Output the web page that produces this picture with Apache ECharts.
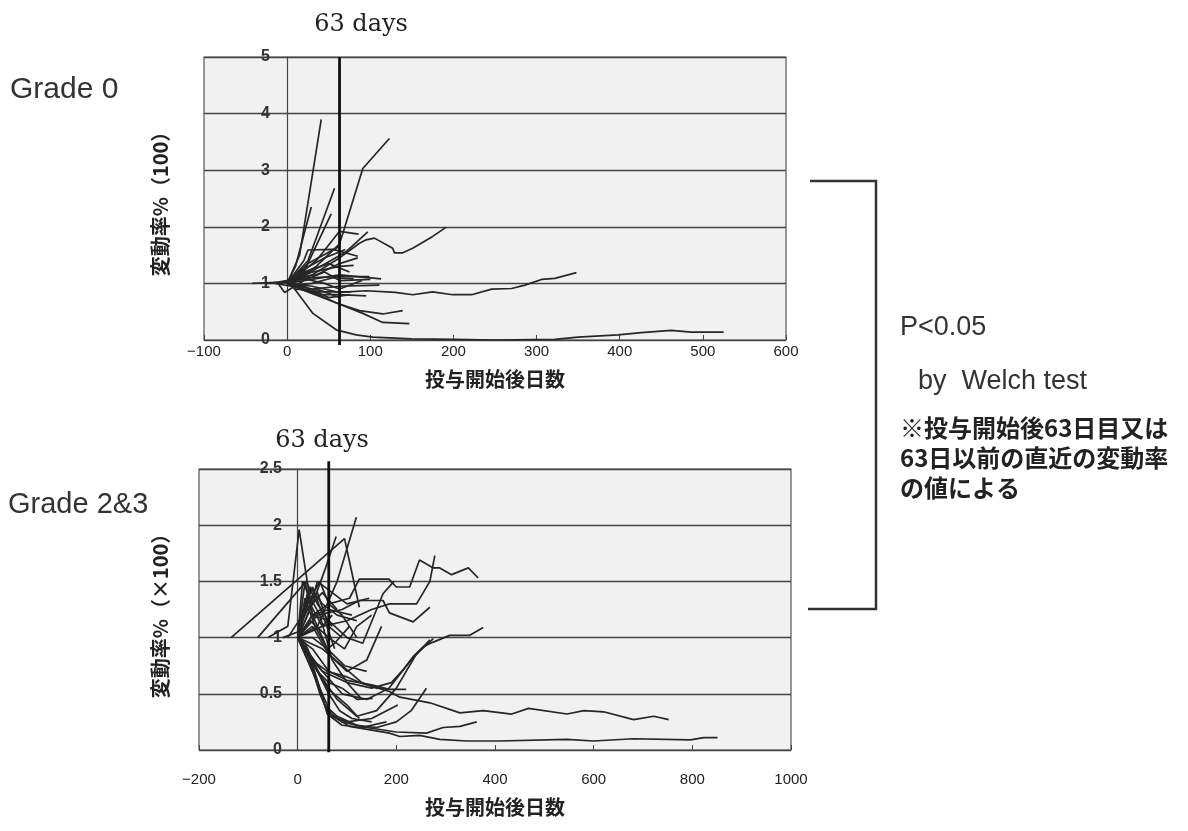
<!DOCTYPE html>
<html><head><meta charset="utf-8">
<script src="https://cdn.jsdelivr.net/npm/echarts@6/dist/echarts.min.js"></script>
<style>html,body{margin:0;padding:0;background:#fff}#c{width:1188px;height:831px}</style>
</head><body><div id="c"></div>
<script>
// ---- axes / labels ----
const cutoffDay = 63;
const topXTicks = {min: -100, max: 600, interval: 100};
const topYTicks = {min: 0, max: 5, interval: 1};
const botXTicks = {min: -200, max: 1000, interval: 200};
const botYTicks = {min: 0, max: 2.5, interval: 0.5};
const xAxisName = '投与開始後日数';
const topYName = '変動率%（100）';
const botYName = '変動率%（×100）';
const topTitle = 'Grade 0';
const botTitle = 'Grade 2&3';
const cutoffLabel = '63 days';
const pText = 'P<0.05';
const testText = 'by  Welch test';
const noteLines = ['※投与開始後63日目又は', '63日以前の直近の変動率', 'の値による'];

// ---- Grade 0 : each patient's [day, ratio] ----
const grade0Lines = [
  [[0,1],[15,1.5],[41,3.9]],
  [[0,1],[25,1.4],[57,2.68]],
  [[0,1],[20,1.2],[53,2.23]],
  [[0,1],[10,1.3],[29,2.35]],
  [[0,1],[35,1.3],[63,1.7],[69,1.98],[91,3.03],[123,3.56]],
  [[0,1],[30,1.15],[63,1.45],[87,1.71],[95,1.77],[105,1.80],[127,1.62],[129,1.54],[139,1.54],[151,1.62],[175,1.83],[191,1.99]],
  [[0,1],[30,0.95],[63,0.84],[95,0.87],[130,0.84],[151,0.80],[175,0.85],[199,0.80],[222,0.80],[246,0.90],[270,0.91],[286,0.97],[306,1.07],[322,1.09],[348,1.19]],
  [[0,1],[7,0.94],[31,0.47],[59,0.18],[83,0.09],[103,0.05],[150,0.02],[200,0.01],[250,0.0],[322,0.01],[350,0.05],[398,0.09],[426,0.13],[462,0.17],[486,0.14],[525,0.14]],
  [[0,1],[30,0.85],[60,0.65],[87,0.52],[115,0.46],[139,0.52]],
  [[0,1],[25,0.85],[55,0.68],[91,0.47],[115,0.31],[147,0.29]],
  [[0,1],[35,1.4],[63,1.92],[86,1.87]],
  [[0,1],[20,1.4],[25,1.59],[55,1.6],[85,1.48]],
  [[0,1],[40,1.3],[70,1.55],[97,1.91]],
  [[-42,1],[-12,1.02],[-3,0.84],[20,1.05],[63,1.15],[113,1.08]],
  [[0,1],[30,0.9],[63,0.95],[111,0.97]],
  [[0,1],[25,1.1],[60,1.12],[99,1.12]],
  [[0,1],[30,0.85],[77,0.85]],
  [[0,1],[20,0.95],[50,0.75],[75,0.8]],
  [[0,1],[30,1.2],[63,1.3],[80,1.32]],
  [[0,1],[15,1.1],[45,1.0],[63,0.9],[90,1.05]],
  [[0,1],[20,1.2],[50,1.35],[75,1.2]],
  [[0,1],[10,0.9],[40,0.88],[63,0.75]],
  [[0,1],[20,1.05],[45,1.2],[63,1.05],[100,1.07]],
  [[-20,1],[0,1.05],[20,1.25],[45,1.45],[70,1.6]],
  [[-15,1],[5,0.95],[30,1.0],[55,1.1],[80,1.08]],
  [[-10,1],[10,1.1],[35,1.15],[63,1.35],[85,1.45]],
  [[0,1],[15,0.9],[40,0.8],[63,0.8],[95,0.78]],
  [[-25,1],[0,1.02],[25,1.35],[50,1.55],[63,1.65]]
];

// ---- Grade 2&3 : each patient's [day, ratio] ----
const grade23Lines = [
  [[-135,1.0],[95,1.88],[125,1.27]],
  [[-60,1.0],[-20,1.1],[3,1.96],[30,1.2],[60,0.9]],
  [[-81,1.0],[17,1.5],[40,1.3],[70,1.1]],
  [[0,1],[40,1.1],[80,1.5],[119,2.07]],
  [[0,1],[30,1.3],[55,1.6],[78,1.9]],
  [[0,1],[30,1.2],[63,1.3],[105,1.35],[125,1.52],[185,1.52],[200,1.45],[227,1.45],[247,1.69],[275,1.62],[288,1.62],[312,1.56],[346,1.62],[366,1.53]],
  [[0,1],[50,1.1],[100,1.15],[150,1.25],[186,1.3],[241,1.3],[268,1.5],[278,1.73]],
  [[0,1],[40,1.2],[90,1.25],[125,1.33],[173,1.33],[186,1.22],[234,1.14],[268,1.27]],
  [[0,1],[50,0.7],[100,0.6],[150,0.55],[190,0.6],[215,0.72],[234,0.83],[255,0.92],[275,0.96],[308,1.02],[349,1.02],[376,1.09]],
  [[0,1],[40,0.75],[90,0.5],[140,0.45],[185,0.55],[230,0.8],[268,0.98]],
  [[0,1],[30,0.8],[60,0.7],[100,0.65],[132,0.59],[186,0.52],[207,0.47],[268,0.42],[329,0.33],[376,0.35],[434,0.32],[468,0.37],[546,0.32],[580,0.35],[620,0.34],[681,0.27],[722,0.30],[752,0.27]],
  [[0,1],[20,0.85],[40,0.6],[55,0.4],[71,0.3],[105,0.21],[186,0.15],[207,0.12],[247,0.13],[288,0.095],[342,0.08],[410,0.08],[546,0.095],[600,0.08],[681,0.10],[796,0.09],[823,0.11],[851,0.11]],
  [[0,1],[25,0.8],[45,0.5],[60,0.35],[90,0.25],[140,0.2],[200,0.16],[261,0.15],[295,0.2],[329,0.21],[363,0.25]],
  [[0,1],[30,0.7],[55,0.4],[80,0.3],[120,0.22],[160,0.2],[200,0.25],[230,0.35],[261,0.55]],
  [[0,1],[40,0.6],[70,0.3],[100,0.25],[150,0.28],[203,0.4]],
  [[0,1],[40,0.7],[80,0.45],[120,0.3],[160,0.35],[200,0.55],[240,0.85],[275,0.99]],
  [[0,1],[30,1.2],[63,1.15],[100,1.0],[132,0.95],[173,1.39],[195,1.5]],
  [[0,1],[20,1.3],[40,1.4],[63,1.1],[90,1.0]],
  [[0,1],[15,1.5],[30,1.2],[63,1.25],[110,1.2]],
  [[0,1],[25,1.45],[50,1.3],[80,1.2],[120,1.15]],
  [[0,1],[30,0.9],[63,0.7],[100,0.62],[150,0.58],[186,0.54],[220,0.54]],
  [[0,1],[40,0.7],[63,0.6],[90,0.55],[120,0.45],[152,0.46]],
  [[0,1],[30,0.8],[60,0.55],[100,0.4],[125,0.28]],
  [[0,1],[50,0.9],[90,0.75],[130,0.6],[160,0.55],[175,0.55]],
  [[0,1],[20,1.3],[45,1.5],[63,1.3],[90,1.2],[120,1.0]],
  [[0,1],[30,1.1],[63,0.85],[100,0.7],[140,0.8],[170,1.1]],
  [[0,1],[20,1.2],[40,1.5],[70,1.4],[100,1.3],[145,1.35]],
  [[0,1],[15,0.95],[40,0.7],[63,0.5],[85,0.35],[110,0.28],[150,0.25]],
  [[0,1],[30,1.0],[60,0.9],[75,0.95],[105,1.1]],
  [[-30,1],[0,1.05],[25,1.3],[50,1.1],[70,1.2]],
  [[0,1],[10,1.5],[30,1.3],[50,1.4],[80,1.25]],
  [[0,1],[20,1.4],[45,1.2],[70,0.8],[100,0.6],[130,0.45]],
  [[0,1],[15,1.35],[35,1.1],[60,0.9],[95,0.75],[140,0.7]],
  [[0,1],[25,1.15],[63,1.0],[95,0.9],[120,1.1],[150,1.2]],
  [[-20,1],[10,1.2],[30,1.45],[55,1.15],[75,0.9]],
  [[0,1],[20,0.9],[45,0.55],[60,0.32],[90,0.22],[130,0.2],[180,0.25]]
];

// ---- build ----
const lineColor = '#262626';
function mkSeries(lines, idx) {
  return lines.map(d => ({
    type: 'line', xAxisIndex: idx, yAxisIndex: idx, data: d,
    showSymbol: false, silent: true, animation: false,
    lineStyle: {color: lineColor, width: 1.7}
  }));
}
const series = [].concat(mkSeries(grade0Lines, 0), mkSeries(grade23Lines, 1));
series.push({type: 'line', xAxisIndex: 0, yAxisIndex: 0, clip: false, showSymbol: false, animation: false,
  data: [[cutoffDay, -0.09], [cutoffDay, topYTicks.max]], lineStyle: {color: '#111', width: 2.8}, z: 5});
series.push({type: 'line', xAxisIndex: 1, yAxisIndex: 1, clip: false, showSymbol: false, animation: false,
  data: [[cutoffDay, -0.02], [cutoffDay, 2.57]], lineStyle: {color: '#111', width: 2.8}, z: 5});

const minus = v => String(v).replace('-', '−');
function xAx(t, idx, labelMargin, nameGap) {
  return {type: 'value', gridIndex: idx, min: t.min, max: t.max, interval: t.interval,
    name: xAxisName, nameLocation: 'middle', nameGap: nameGap,
    nameTextStyle: {fontFamily: 'Noto Sans CJK JP', fontWeight: 'bold', fontSize: 20, color: '#222'},
    axisLine: {show: false}, axisTick: {show: true, inside: true, length: 5, lineStyle: {color: '#444'}},
    axisLabel: {formatter: minus, fontFamily: 'Liberation Sans', fontSize: 15, color: '#222', margin: labelMargin},
    splitLine: {show: false}};
}
function yAx(t, idx, labelMargin) {
  return {type: 'value', gridIndex: idx, min: t.min, max: t.max, interval: t.interval,
    axisLine: {show: true, onZero: true, lineStyle: {color: '#444', width: 1.2}},
    axisTick: {show: false},
    axisLabel: {fontFamily: 'Liberation Sans', fontWeight: 'bold', fontSize: 16, color: '#333', margin: labelMargin},
    splitLine: {show: true, lineStyle: {color: '#444', width: 1.3}}};
}

const option = {
  backgroundColor: '#ffffff',
  animation: false,
  grid: [
    {left: 204, top: 57, width: 582, height: 283, show: true, backgroundColor: '#f1f1f1', borderColor: '#555', borderWidth: 1.2},
    {left: 199, top: 469, width: 592, height: 281, show: true, backgroundColor: '#f1f1f1', borderColor: '#555', borderWidth: 1.2}
  ],
  xAxis: [xAx(topXTicks, 0, 4, 29), xAx(botXTicks, 1, 22, 47)],
  yAxis: [yAx(topYTicks, 0, -66), yAx(botYTicks, 1, -83)],
  series: series,
  graphic: [
    {type: 'text', x: 10, y: 90, silent: true, style: {text: topTitle, font: '30px "Liberation Sans"', fill: '#333', verticalAlign: 'middle'}},
    {type: 'text', x: 8, y: 505, silent: true, style: {text: botTitle, font: '29px "Liberation Sans"', fill: '#333', verticalAlign: 'middle'}},
    {type: 'text', x: 361, y: 25, silent: true, style: {text: cutoffLabel, font: '24px "DejaVu Serif"', fill: '#222', align: 'center', verticalAlign: 'middle'}},
    {type: 'text', x: 322, y: 441, silent: true, style: {text: cutoffLabel, font: '24px "DejaVu Serif"', fill: '#222', align: 'center', verticalAlign: 'middle'}},
    {type: 'text', x: 160, y: 199, rotation: Math.PI / 2, silent: true, style: {text: topYName, font: 'bold 20px "Noto Sans CJK JP"', fill: '#222', align: 'center', verticalAlign: 'middle'}},
    {type: 'text', x: 160, y: 611, rotation: Math.PI / 2, silent: true, style: {text: botYName, font: 'bold 20px "Noto Sans CJK JP"', fill: '#222', align: 'center', verticalAlign: 'middle'}},
    {type: 'polyline', silent: true, shape: {points: [[810, 181], [876, 181], [876, 609], [808, 609]]}, style: {stroke: '#333', lineWidth: 2.5, fill: null}},
    {type: 'text', x: 900, y: 328, silent: true, style: {text: pText, font: '27px "Liberation Sans"', fill: '#333', verticalAlign: 'middle'}},
    {type: 'text', x: 918, y: 382, silent: true, style: {text: testText, font: '27px "Liberation Sans"', fill: '#333', verticalAlign: 'middle'}},
    {type: 'text', x: 900, y: 428, silent: true, style: {text: noteLines[0], font: 'bold 24px "Noto Sans CJK JP"', fill: '#222', verticalAlign: 'middle'}},
    {type: 'text', x: 900, y: 458, silent: true, style: {text: noteLines[1], font: 'bold 24px "Noto Sans CJK JP"', fill: '#222', verticalAlign: 'middle'}},
    {type: 'text', x: 900, y: 488, silent: true, style: {text: noteLines[2], font: 'bold 24px "Noto Sans CJK JP"', fill: '#222', verticalAlign: 'middle'}}
  ]
};
const chart = echarts.init(document.getElementById('c'), null, {renderer: 'canvas'});
chart.setOption(option);
</script></body></html>
